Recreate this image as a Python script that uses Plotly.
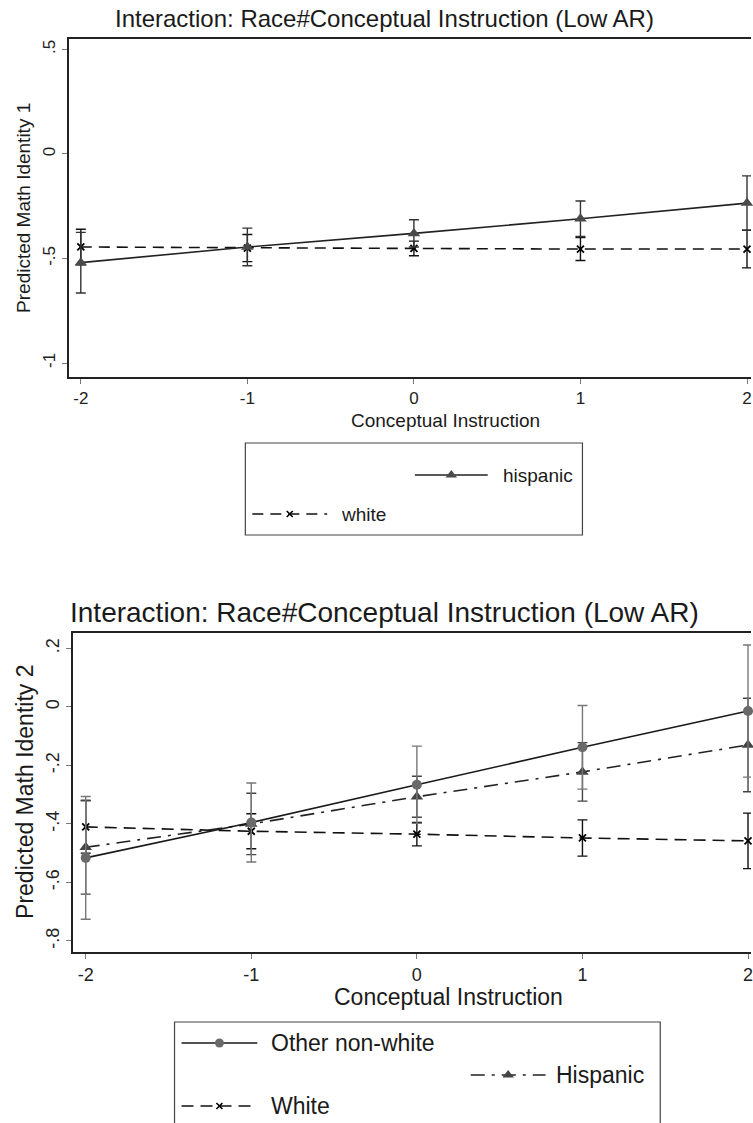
import plotly.graph_objects as go

# ---------------- data ----------------
x_vals = [-2, -1, 0, 1, 2]
x_ticks = [-2, -1, 0, 1, 2]
x_ticktext = ["-2", "-1", "0", "1", "2"]

# Panel 1 (Predicted Math Identity 1)
top_hisp = [-0.52, -0.445, -0.38, -0.31, -0.235]
top_hisp_ci = [0.145, 0.09, 0.065, 0.085, 0.13]
top_white = [-0.445, -0.45, -0.452, -0.455, -0.455]
top_white_ci = [0.085, 0.065, 0.035, 0.055, 0.09]
top_yticks = [0.5, 0, -0.5, -1]
top_yticktext = [".5", "0", "-.5", "-1"]

# Panel 2 (Predicted Math Identity 2)
bot_other = [-0.516, -0.395, -0.266, -0.138, -0.014]
bot_other_ci = [0.21, 0.135, 0.132, 0.143, 0.226]
bot_hisp = [-0.48, -0.40, -0.307, -0.222, -0.13]
bot_hisp_ci = [0.16, 0.105, 0.07, 0.10, 0.16]
bot_white = [-0.41, -0.425, -0.435, -0.448, -0.458]
bot_white_ci = [0.09, 0.06, 0.04, 0.062, 0.095]
bot_yticks = [0.2, 0, -0.2, -0.4, -0.6, -0.8]
bot_yticktext = [".2", "0", "-.2", "-.4", "-.6", "-.8"]

title_text = "Interaction: Race#Conceptual Instruction (Low AR)"
FONT = "Liberation Sans, Arial, sans-serif"

W, H = 753, 1123


def px(x):
    return x / W


def py(y):
    return 1 - y / H


fig = go.Figure()


def series(y, ci, xa, ya, dash, symbol, msize, mcolor, lcolor, ecolor, mline=0):
    fig.add_trace(go.Scatter(
        x=x_vals, y=y, xaxis=xa, yaxis=ya, mode="lines+markers",
        line=dict(color=lcolor, width=1.6, dash=dash),
        marker=dict(symbol=symbol, size=msize, color=mcolor,
                    line=dict(width=mline, color=mcolor)),
        error_y=dict(type="data", array=ci, symmetric=True, color=ecolor,
                     thickness=1.4, width=5),
        cliponaxis=False,
        showlegend=False, hoverinfo="skip"))


# top panel
series(top_white, top_white_ci, "x", "y", "11px,7px", "x-thin", 7, "#000000", "#111111", "#111111", 1.8)
series(top_hisp, top_hisp_ci, "x", "y", "solid", "triangle-up", 11, "#4a4a4a", "#222222", "#333333")

# bottom panel
series(bot_white, bot_white_ci, "x2", "y2", "12px,7px", "x-thin", 7, "#000000", "#111111", "#111111", 1.8)
series(bot_hisp, bot_hisp_ci, "x2", "y2", "14px,7px,3px,7px", "triangle-up", 11, "#444444", "#222222", "#444444")
series(bot_other, bot_other_ci, "x2", "y2", "solid", "circle", 10, "#6a6a6a", "#1a1a1a", "#777777")

axis_common = dict(showgrid=False, zeroline=False, showline=True, linecolor="#222222",
                   ticks="outside", tickcolor="#777777", ticklen=5, tickwidth=1,
                   fixedrange=True)

fig.update_layout(
    xaxis=dict(domain=[px(69), 1.0], range=[-2.072, 2.024], anchor="y",
               tickvals=x_ticks, ticktext=x_ticktext, mirror=True, linewidth=1.5,
               ticklabeloverflow="allow",
               tickfont=dict(size=17, color="#222222", family=FONT), **axis_common),
    yaxis=dict(domain=[py(377), py(39)], range=[-1.067, 0.55], anchor="x",
               tickvals=top_yticks, ticktext=top_yticktext, tickangle=-90, linewidth=1.5,
               tickfont=dict(size=17, color="#222222", family=FONT), **axis_common),
    xaxis2=dict(domain=[px(73), 1.0], range=[-2.078, 2.018], anchor="y2",
                tickvals=x_ticks, ticktext=x_ticktext, mirror=True, linewidth=2,
                ticklabeloverflow="allow",
                tickfont=dict(size=18, color="#222222", family=FONT), **axis_common),
    yaxis2=dict(domain=[py(952), py(633)], range=[-0.838, 0.253], anchor="x2",
                tickvals=bot_yticks, ticktext=bot_yticktext, tickangle=-90, linewidth=2,
                tickfont=dict(size=18, color="#222222", family=FONT), **axis_common),
    # overlay axis in window-pixel units for legend keys
    xaxis3=dict(domain=[0, 1], range=[0, W], visible=False, fixedrange=True, anchor="y3"),
    yaxis3=dict(domain=[0, 1], range=[H, 0], visible=False, fixedrange=True, anchor="x3"),
)


def key(x0, x1, y, dash, symbol, msize, mcolor, lcolor, mline=0):
    fig.add_trace(go.Scatter(x=[x0, x1], y=[y, y], xaxis="x3", yaxis="y3", mode="lines",
                             line=dict(color=lcolor, width=1.6, dash=dash),
                             showlegend=False, hoverinfo="skip"))
    fig.add_trace(go.Scatter(x=[(x0 + x1) / 2], y=[y], xaxis="x3", yaxis="y3", mode="markers",
                             marker=dict(symbol=symbol, size=msize, color=mcolor,
                                         line=dict(width=mline, color=mcolor)),
                             showlegend=False, hoverinfo="skip"))


# legend keys panel 1
key(416, 489, 475, "solid", "triangle-up", 10, "#4a4a4a", "#222222")
key(253, 328, 514, "11px,7px", "x-thin", 6, "#000000", "#111111", 1.6)
# legend keys panel 2
key(182, 258, 1043, "solid", "circle", 9, "#6a6a6a", "#1a1a1a")
key(472, 547, 1075, "14px,7px,3px,7px", "triangle-up", 10, "#444444", "#222222")
key(182, 258, 1106, "12px,7px", "x-thin", 6, "#000000", "#111111", 1.6)

shapes = [
    dict(type="rect", xref="paper", yref="paper", x0=px(246), x1=px(584), y0=py(535), y1=py(443),
         line=dict(color="#444444", width=1.2), fillcolor="rgba(0,0,0,0)"),
    dict(type="rect", xref="paper", yref="paper", x0=px(175), x1=px(662), y0=py(1140), y1=py(1022),
         line=dict(color="#444444", width=1.2), fillcolor="rgba(0,0,0,0)"),
]

ann = []


def text(x, y, s, size, xanchor="center", angle=0):
    ann.append(dict(x=px(x), y=py(y), xref="paper", yref="paper", text=s, showarrow=False,
                    xanchor=xanchor, yanchor="middle", textangle=angle,
                    font=dict(size=size, color="#1a1a1a", family=FONT)))


text(386, 19, title_text, 24)
text(386, 612, title_text, 28)
text(24, 208, "Predicted Math Identity 1", 19, angle=-90)
text(25, 792, "Predicted Math Identity 2", 23, angle=-90)
text(447, 420, "Conceptual Instruction", 19)
text(450, 997, "Conceptual Instruction", 23)
text(502, 475, "hispanic", 19, xanchor="left")
text(340, 514, "white", 19, xanchor="left")
text(270, 1043, "Other non-white", 23, xanchor="left")
text(555, 1075, "Hispanic", 23, xanchor="left")
text(270, 1106, "White", 23, xanchor="left")

fig.update_layout(
    width=W, height=H, margin=dict(l=0, r=0, t=0, b=0),
    paper_bgcolor="white", plot_bgcolor="rgba(0,0,0,0)",
    font=dict(family=FONT, color="#1a1a1a"),
    shapes=shapes, annotations=ann, showlegend=False,
)

fig.write_html(
    "out.html",
    config={"displayModeBar": False},
    post_script=("document.body.style.margin='0';document.body.style.overflow='hidden';"
                 "document.documentElement.style.overflow='hidden';"),
)
